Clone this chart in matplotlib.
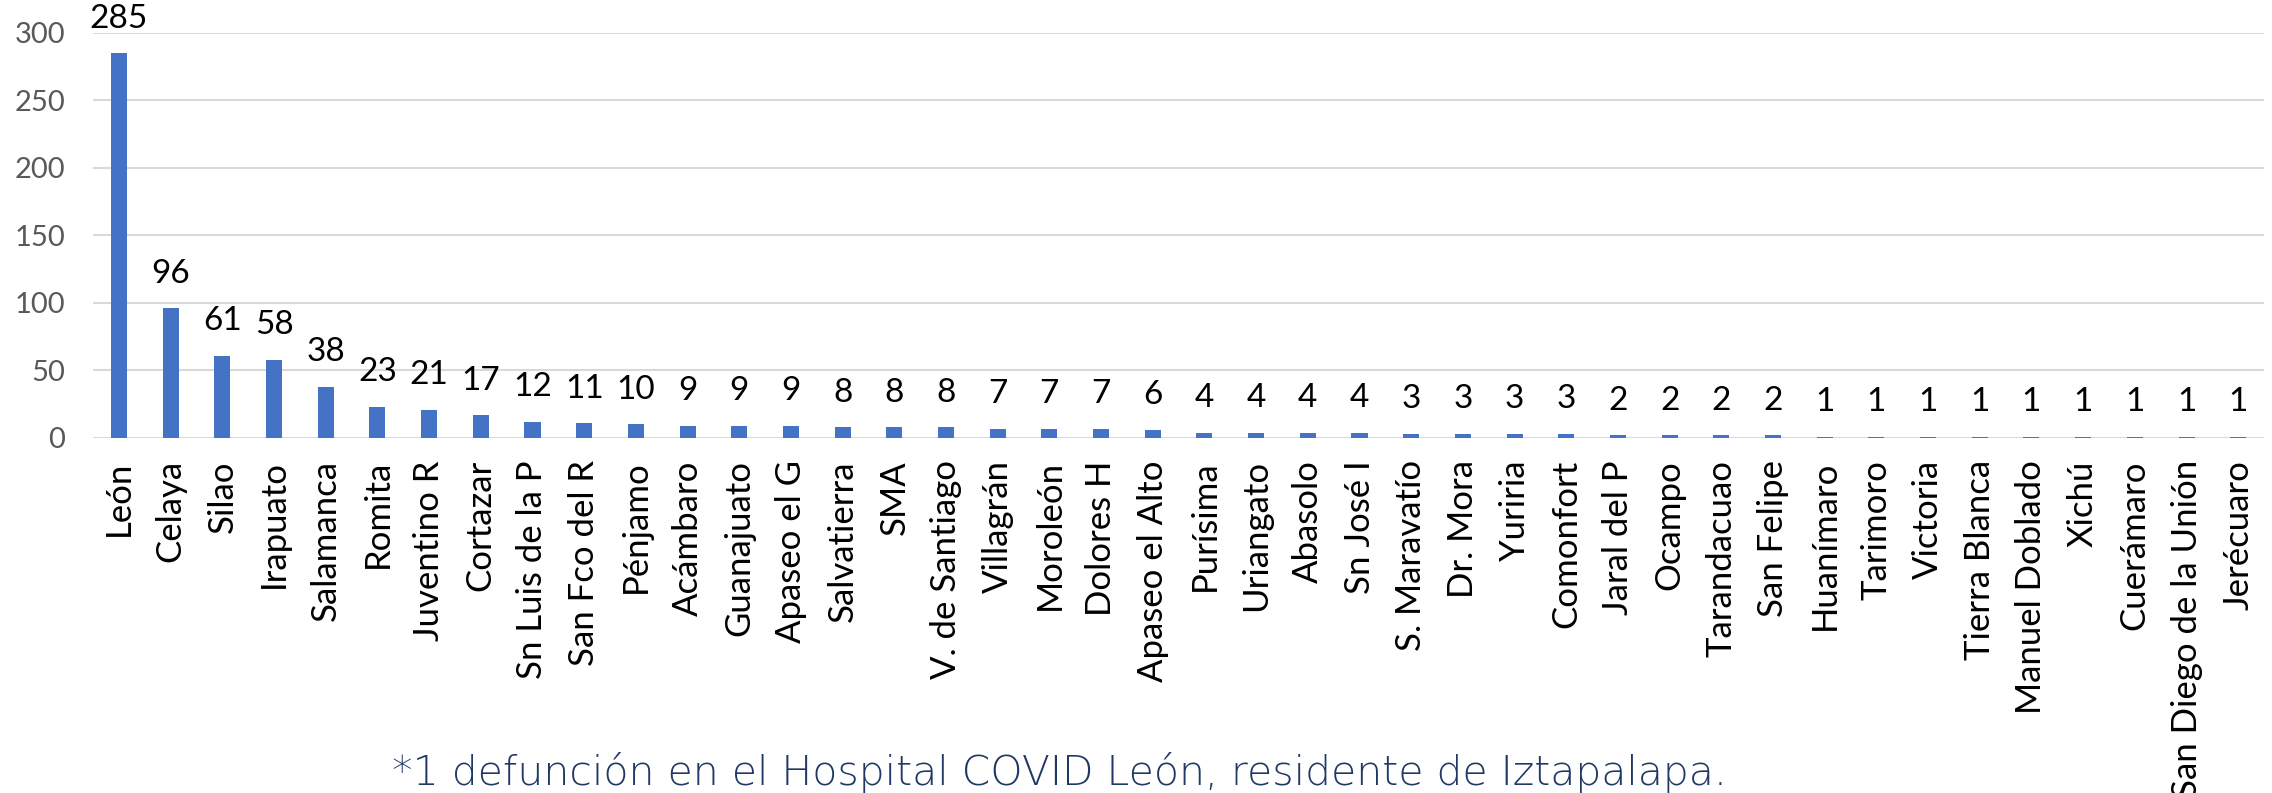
import numpy as np
import matplotlib.pyplot as plt

# datos: defunciones por municipio
municipios = ["León", "Celaya", "Silao", "Irapuato", "Salamanca", "Romita", "Juventino R",
              "Cortazar", "Sn Luis de la P", "San Fco del R", "Pénjamo", "Acámbaro",
              "Guanajuato", "Apaseo el G", "Salvatierra", "SMA", "V. de Santiago",
              "Villagrán", "Moroleón", "Dolores H", "Apaseo el Alto", "Purísima",
              "Uriangato", "Abasolo", "Sn José I", "S. Maravatío", "Dr. Mora", "Yuriria",
              "Comonfort", "Jaral del P", "Ocampo", "Tarandacuao", "San Felipe",
              "Huanímaro", "Tarimoro", "Victoria", "Tierra Blanca", "Manuel Doblado",
              "Xichú", "Cuerámaro", "San Diego de la Unión", "Jerécuaro"]
defunciones = [285, 96, 61, 58, 38, 23, 21, 17, 12, 11, 10, 9, 9, 9, 8, 8, 8, 7, 7, 7, 6,
               4, 4, 4, 4, 3, 3, 3, 3, 2, 2, 2, 2, 1, 1, 1, 1, 1, 1, 1, 1, 1]
yticks = [0, 50, 100, 150, 200, 250, 300]
nota = "*1 defunción en el Hospital COVID León, residente de Iztapalapa."

plt.rcParams['font.family'] = ['Lato', 'DejaVu Sans']

fig = plt.figure(figsize=(22.72, 7.93), dpi=100)
ax = fig.add_axes([0.041, 0.4477, 0.9555, 0.5107])

x = np.arange(len(municipios))
bars = ax.bar(x, defunciones, width=0.31, color='#4472C4', zorder=3)

# etiquetas de valor encima de cada barra
for xi, v in zip(x, defunciones):
    ax.annotate(str(v), (xi, v), xytext=(0, 14), textcoords='offset points',
                ha='center', va='bottom', fontsize=24, color='black')

ax.set_xlim(-0.5, len(municipios) - 0.5)
ax.set_ylim(0, 300)
ax.set_yticks(yticks)
ax.yaxis.grid(True, color='#D9D9D9', linewidth=1.5, zorder=0)
ax.set_axisbelow(True)
for s in ax.spines.values():
    s.set_visible(False)
ax.tick_params(axis='y', length=0, pad=20, labelsize=21, labelcolor='#595959')
ax.tick_params(axis='x', length=0, pad=16)
ax.set_xticks(x)
ax.set_xticklabels(municipios, rotation=90, fontsize=25, va='top', ha='center')

fig.text(0.4665, 0.01, nota, ha='center', va='baseline', fontsize=29.5,
         color='#1F3864', family=['DejaVu Sans'], fontweight='light')

fig.savefig('out.png', dpi=100)
